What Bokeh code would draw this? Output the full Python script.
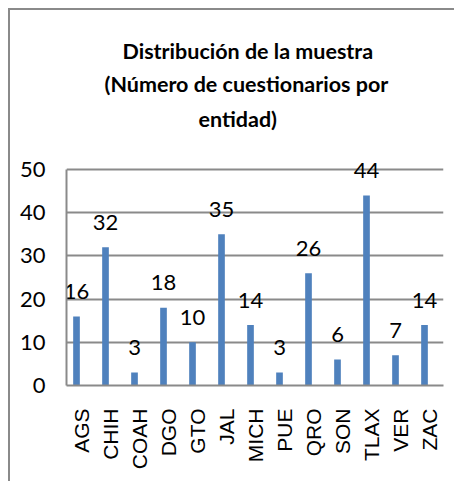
from bokeh.plotting import figure
from bokeh.models import ColumnDataSource, Title, FactorRange, Range1d, FixedTicker
from bokeh.transform import dodge
from bokeh.core.properties import value
from bokeh.embed import file_html
from bokeh.resources import INLINE

# ---- data ----
categories = ["AGS", "CHIH", "COAH", "DGO", "GTO", "JAL", "MICH", "PUE", "QRO", "SON", "TLAX", "VER", "ZAC"]
counts = [16, 32, 3, 18, 10, 35, 14, 3, 26, 6, 44, 7, 14]
y_ticks = [0, 10, 20, 30, 40, 50]
title_lines = ["Distribución de la muestra", "(Número de cuestionarios por", "entidad)"]

FONT = "Lato"

src = ColumnDataSource(dict(cat=categories, n=counts, lab=[str(v) for v in counts]))

# frame is 235 px tall; the 0-50 axis occupies the lower 216 px, leaving room for labels above 50
Y_TOP = y_ticks[-1] * 235 / 216

W, H = 446, 473
p = figure(x_range=FactorRange(*categories, range_padding=0), y_range=Range1d(0, Y_TOP),
           width=W, height=H, output_backend="svg", toolbar_location=None,
           min_border_left=56, min_border_right=13, min_border_top=140, min_border_bottom=98)
p.styles = {"border-top": "2px solid #8a8a8a", "border-left": "2px solid #8a8a8a",
            "margin-left": "8px", "margin-top": "8px"}
p.outline_line_color = None
p.background_fill_color = "white"
p.border_fill_color = "white"

p.vbar(x=dodge("cat", -0.155, range=p.x_range), top="n", width=0.23, source=src,
       fill_color="#4F81BD", line_color=None)
p.text(x=dodge("cat", -0.155, range=p.x_range), y="n", text="lab", source=src,
       text_align="center", text_baseline="alphabetic", y_offset=-25,
       text_font=value(FONT), text_font_size="22px", text_color="black")

# axes
p.yaxis.ticker = FixedTicker(ticks=y_ticks)
p.yaxis.bounds = (y_ticks[0], y_ticks[-1])
p.yaxis.major_label_text_font = FONT
p.yaxis.major_label_text_font_size = "22px"
p.yaxis.major_label_text_color = "black"
p.yaxis.axis_line_color = "#8a8a8a"
p.yaxis.axis_line_width = 2
p.yaxis.major_tick_line_color = None
p.yaxis.minor_tick_line_color = None
p.yaxis.major_label_standoff = 15

p.xaxis.major_label_orientation = 3.14159265 / 2
p.xaxis.major_label_text_font = "Liberation Sans"
p.xaxis.major_label_text_font_size = "21px"
p.xaxis.major_label_text_color = "black"
p.xaxis.axis_line_color = "#8a8a8a"
p.xaxis.axis_line_width = 2
p.xaxis.major_tick_line_color = None
p.xaxis.minor_tick_line_color = None
p.xaxis.major_label_standoff = 17

p.xgrid.grid_line_color = None
p.ygrid.grid_line_color = "#8a8a8a"
p.ygrid.grid_line_width = 2

# spacer between the frame and the title block
p.add_layout(Title(text=" ", text_font_size="1px", standoff=12), "above")

# title: one Title per line, added from the frame outwards
offsets = [56, 38, 132]      # left start of each line relative to the frame's left edge
standoffs = [4, 6, 8]
for t, off, so in reversed(list(zip(title_lines, offsets, standoffs))):
    p.add_layout(Title(text=t, align="left", offset=off, standoff=so,
                       text_font=FONT, text_font_style="bold", text_font_size="21.5px",
                       text_color="black"), "above")

open("out.html", "w").write(file_html(p, INLINE))
